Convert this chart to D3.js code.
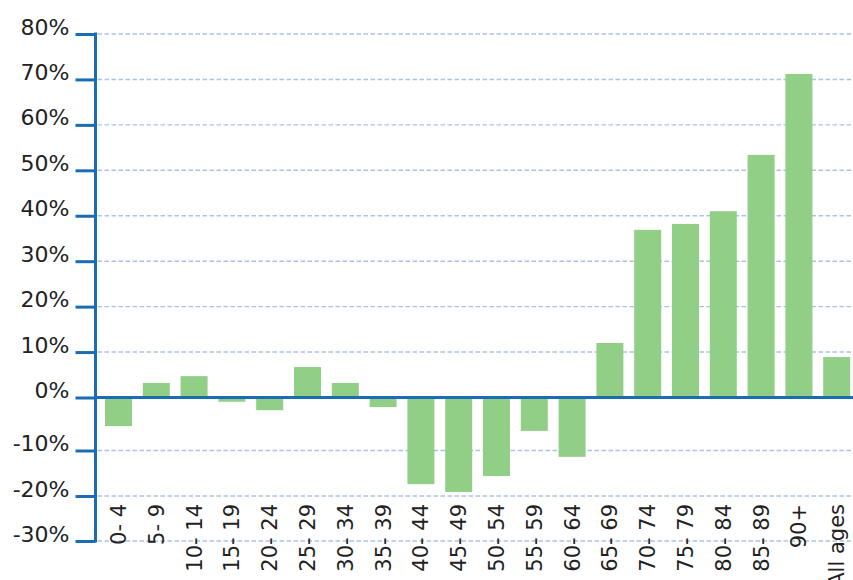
<!DOCTYPE html>
<html>
<head>
<meta charset="utf-8">
<script src="https://cdn.jsdelivr.net/npm/d3@7"></script>
<style>
  html, body { margin: 0; padding: 0; background: #fff; }
  svg { display: block; }
  text { font-family: "DejaVu Sans", sans-serif; fill: #222; }
</style>
</head>
<body>
<svg id="chart" width="853" height="580"></svg>
<script>
// ---- data ----
const categories = ["0-4","5-9","10-14","15-19","20-24","25-29","30-34","35-39","40-44","45-49",
                    "50-54","55-59","60-64","65-69","70-74","75-79","80-84","85-89","90+","All ages"];
const values = [-5.4, 3.2, 4.7, -0.8, -2.4, 6.7, 3.2, -1.8, -17.4, -19.1,
                -15.6, -6.3, -11.4, 12.0, 36.9, 38.2, 41.0, 53.4, 71.2, 8.9];
const yTicks = [-30, -20, -10, 0, 10, 20, 30, 40, 50, 60, 70, 80];

// ---- layout ----
const svg = d3.select("#chart");
const axisX = 95.5;
const blue = "#1a6db3";

// The reference axis is not uniform below zero; reproduce its tick positions.
const y = d3.scaleLinear().domain([-30, -20, -10, 0, 80]).range([541, 496, 450.5, 397.5, 34]);
const x = d3.scaleBand().domain(categories).range([99.6, 855.6]).paddingInner(0.286).paddingOuter(0.143);

// gridlines
svg.append("g").selectAll("line").data(yTicks.filter(d => d !== 0)).join("line")
  .attr("x1", axisX + 2).attr("x2", 853)
  .attr("y1", d => y(d)).attr("y2", d => y(d))
  .attr("stroke", "#a9c3e6").attr("stroke-width", 1.4).attr("stroke-dasharray", "4.5,2.5");

// bars
svg.append("g").selectAll("rect").data(values).join("rect")
  .attr("x", (d, i) => x(categories[i]))
  .attr("width", x.bandwidth())
  .attr("y", d => Math.min(y(d), y(0)))
  .attr("height", d => Math.abs(y(d) - y(0)))
  .attr("fill", "#90cf85");

// zero line
svg.append("line")
  .attr("x1", axisX).attr("x2", 853).attr("y1", y(0)).attr("y2", y(0))
  .attr("stroke", blue).attr("stroke-width", 3);

// y axis
const yAxis = d3.axisLeft(y).tickValues(yTicks).tickSize(20).tickPadding(6).tickFormat(d => d + "%");
const gy = svg.append("g").attr("transform", `translate(${axisX},0)`).call(yAxis);
gy.select(".domain").remove();
gy.selectAll(".tick line").attr("stroke", blue).attr("stroke-width", 3);
gy.selectAll(".tick text").attr("dy", "0").attr("font-size", 22)
  .style("font-family", "DejaVu Sans, sans-serif").attr("fill", "#222");
gy.append("line").attr("x1", 0).attr("x2", 0).attr("y1", y(80) - 1.5).attr("y2", y(-30) + 1.5)
  .attr("stroke", blue).attr("stroke-width", 3);

// x labels
svg.append("g").selectAll("text").data(categories).join("text")
  .attr("transform", d => `translate(${x(d) + x.bandwidth() / 2},504) rotate(-90)`)
  .attr("text-anchor", "end")
  .attr("dy", "0.36em")
  .attr("font-size", 21)
  .text(d => d.replace("-", "- "));
</script>
</body>
</html>
